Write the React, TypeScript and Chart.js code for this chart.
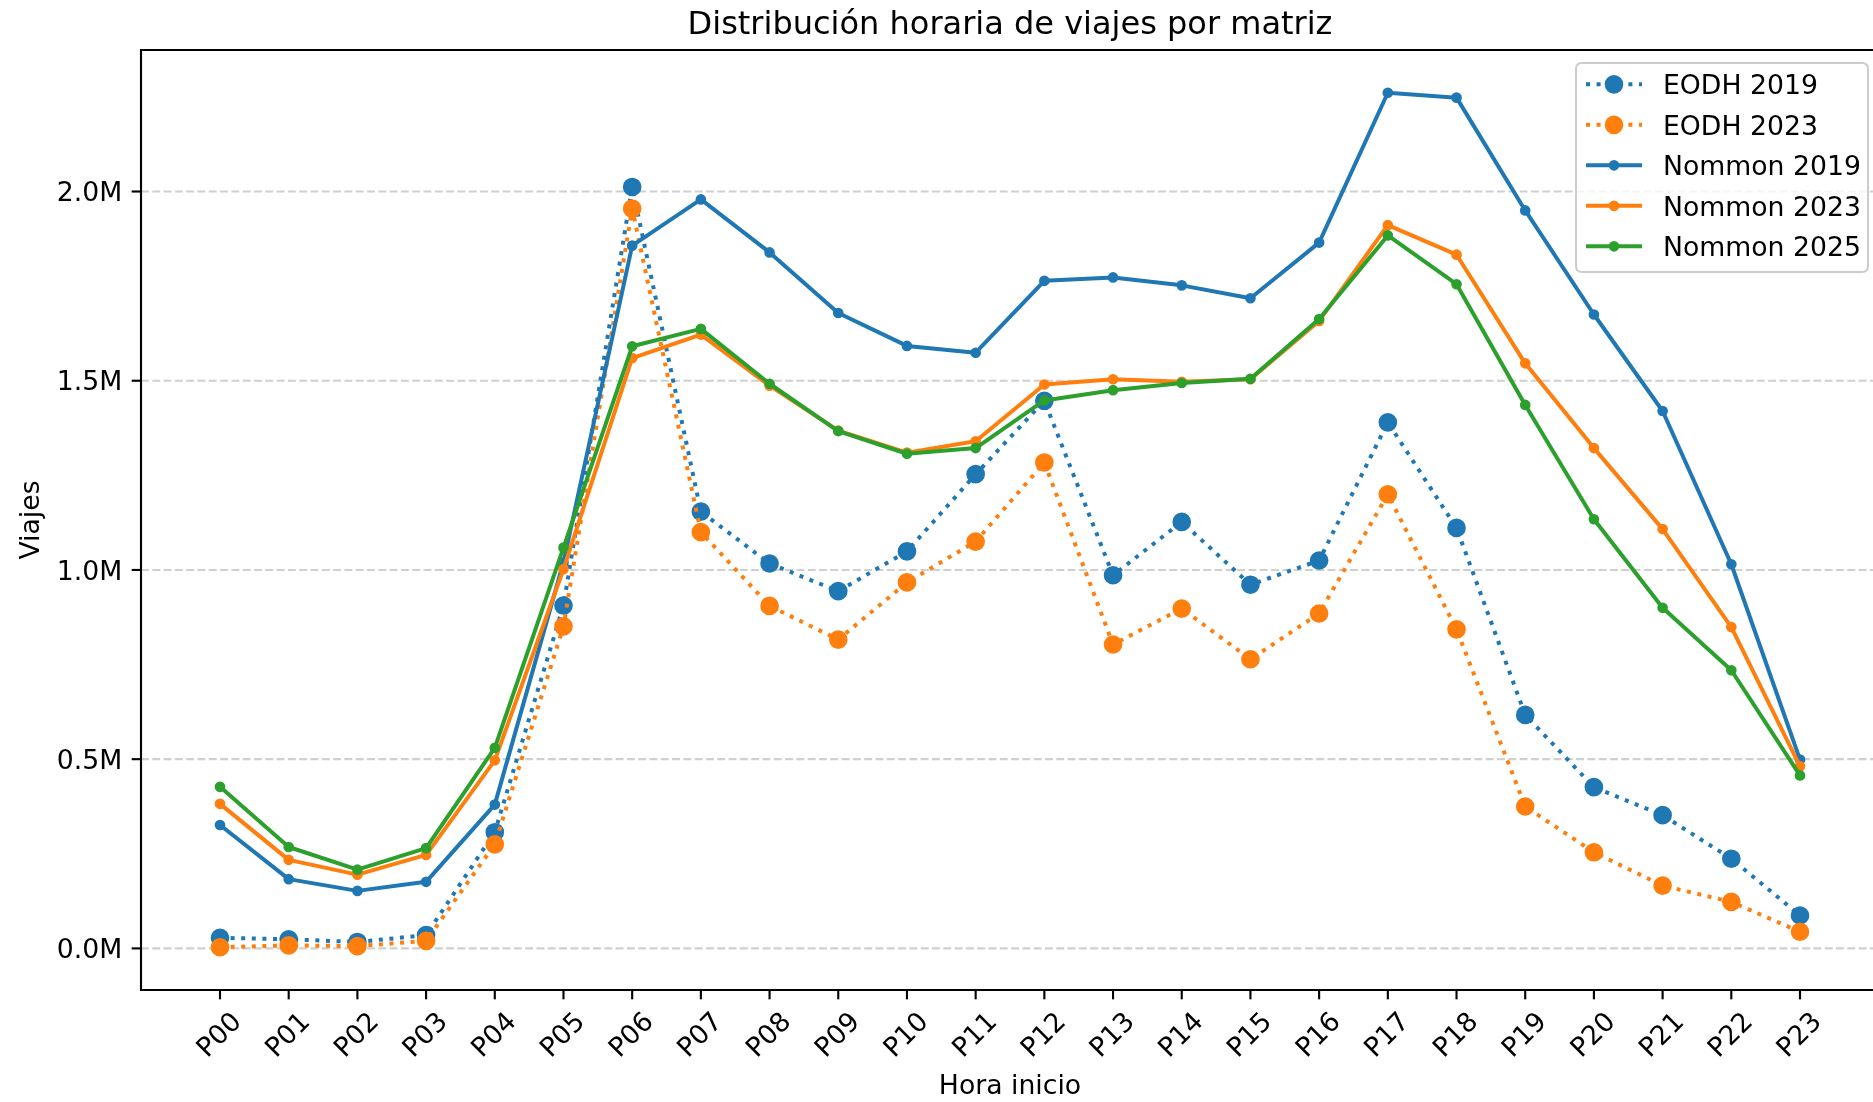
import React, { useEffect, useRef } from "react";
import { Chart, registerables } from "chart.js";

Chart.register(...registerables);

const HOURS = ["P00","P01","P02","P03","P04","P05","P06","P07","P08","P09","P10","P11","P12","P13","P14","P15","P16","P17","P18","P19","P20","P21","P22","P23"];

// values in millions of trips
const EODH_2019 = [0.028, 0.024, 0.017, 0.035, 0.307, 0.906, 2.012, 1.154, 1.017, 0.944, 1.049, 1.253, 1.447, 0.986, 1.127, 0.961, 1.025, 1.390, 1.111, 0.617, 0.426, 0.352, 0.237, 0.087];
const EODH_2023 = [0.003, 0.008, 0.006, 0.020, 0.275, 0.851, 1.955, 1.100, 0.905, 0.816, 0.967, 1.075, 1.284, 0.803, 0.898, 0.764, 0.885, 1.200, 0.843, 0.375, 0.254, 0.166, 0.123, 0.044];
const NOMMON_2019 = [0.326, 0.183, 0.152, 0.176, 0.380, 1.020, 1.857, 1.979, 1.839, 1.679, 1.592, 1.574, 1.764, 1.773, 1.752, 1.718, 1.865, 2.261, 2.248, 1.950, 1.675, 1.420, 1.015, 0.499];
const NOMMON_2023 = [0.382, 0.234, 0.195, 0.247, 0.497, 1.002, 1.560, 1.622, 1.487, 1.368, 1.310, 1.340, 1.490, 1.504, 1.497, 1.504, 1.658, 1.911, 1.833, 1.546, 1.322, 1.108, 0.849, 0.481];
const NOMMON_2025 = [0.427, 0.268, 0.208, 0.265, 0.530, 1.059, 1.591, 1.637, 1.492, 1.367, 1.307, 1.322, 1.448, 1.475, 1.494, 1.505, 1.663, 1.884, 1.755, 1.436, 1.134, 0.900, 0.735, 0.457];

const Y_TICKS = [0, 0.5, 1.0, 1.5, 2.0];
const Y_TICK_LABELS = ["0.0M", "0.5M", "1.0M", "1.5M", "2.0M"];

const TITLE = "Distribución horaria de viajes por matriz";
const X_TITLE = "Hora inicio";
const Y_TITLE = "Viajes";

const BLUE = "#1f77b4";
const ORANGE = "#ff7f0e";
const GREEN = "#2ca02c";

const SERIES = [
  { label: "EODH 2019", data: EODH_2019, color: BLUE, dotted: true },
  { label: "EODH 2023", data: EODH_2023, color: ORANGE, dotted: true },
  { label: "Nommon 2019", data: NOMMON_2019, color: BLUE, dotted: false },
  { label: "Nommon 2023", data: NOMMON_2023, color: ORANGE, dotted: false },
  { label: "Nommon 2025", data: NOMMON_2025, color: GREEN, dotted: false },
];

const CANVAS_W = 1890;
const CANVAS_H = 1102;
const AX_L = 141, AX_T = 50, AX_R = 1879, AX_B = 990;
const FONT = '"DejaVu Sans", sans-serif';
const FS = 26.7;
const LW = 4;
const DOT_DASH = [4, 6.6];
const BIG_R = 8, SMALL_R = 4, MEW = 2.67;
const TICK_LEN = 9.33, PAD = 9.33, SPINE_W = 2.13;

export default function App() {
  const ref = useRef<HTMLCanvasElement | null>(null);

  useEffect(() => {
    const canvas = ref.current;
    if (!canvas) return;

    const allVals = SERIES.flatMap((s) => s.data);
    const dmin = Math.min(...allVals), dmax = Math.max(...allVals);
    const margin = (dmax - dmin) * 0.05;

    const decor = {
      id: "decor",
      beforeDatasetsDraw(chart: any) {
        const ctx = chart.ctx;
        const ys = chart.scales.y;
        ctx.save();
        ctx.strokeStyle = "rgba(176,176,176,0.6)";
        ctx.lineWidth = 2.13;
        ctx.setLineDash([7.9, 3.4]);
        for (const v of Y_TICKS) {
          const y = ys.getPixelForValue(v);
          ctx.beginPath();
          ctx.moveTo(AX_L, y);
          ctx.lineTo(AX_R, y);
          ctx.stroke();
        }
        ctx.restore();
      },
      afterDatasetsDraw(chart: any) {
        const ctx = chart.ctx;
        const xs = chart.scales.x;
        const ys = chart.scales.y;
        ctx.save();
        // spines
        ctx.strokeStyle = "#000";
        ctx.lineWidth = SPINE_W;
        ctx.setLineDash([]);
        ctx.lineCap = "square";
        ctx.beginPath();
        ctx.moveTo(AX_L, AX_B);
        ctx.lineTo(AX_L, AX_T);
        ctx.lineTo(AX_R, AX_T);
        ctx.lineTo(AX_R, AX_B);
        ctx.lineTo(AX_L, AX_B);
        ctx.stroke();
        ctx.lineCap = "butt";
        // y ticks
        ctx.fillStyle = "#000";
        ctx.font = `${FS}px ${FONT}`;
        ctx.textAlign = "right";
        ctx.textBaseline = "alphabetic";
        Y_TICKS.forEach((v, i) => {
          const y = ys.getPixelForValue(v);
          ctx.beginPath();
          ctx.moveTo(AX_L, y);
          ctx.lineTo(AX_L - TICK_LEN, y);
          ctx.stroke();
          ctx.fillText(Y_TICK_LABELS[i], AX_L - TICK_LEN - PAD, y + 0.729 * FS / 2);
        });
        // x ticks
        HOURS.forEach((lab, i) => {
          const x = xs.getPixelForValue(i);
          ctx.beginPath();
          ctx.moveTo(x, AX_B);
          ctx.lineTo(x, AX_B + TICK_LEN);
          ctx.stroke();
          const w = ctx.measureText(lab).width;
          const h = 0.996 * FS;
          const bh = (w + h) * Math.SQRT1_2;
          const cy = AX_B + TICK_LEN + PAD + bh / 2;
          ctx.save();
          ctx.translate(x, cy);
          ctx.rotate(-Math.PI / 4);
          ctx.textAlign = "center";
          ctx.fillText(lab, 0, (0.76 - 0.236) / 2 * FS);
          ctx.restore();
        });
        // axis titles
        ctx.textAlign = "center";
        ctx.fillText(X_TITLE, (AX_L + AX_R) / 2, 1094);
        ctx.save();
        ctx.translate(32, (AX_T + AX_B) / 2);
        ctx.rotate(-Math.PI / 2);
        ctx.fillText(Y_TITLE, 0, (0.76 - 0.236) / 2 * FS);
        ctx.restore();
        // title
        ctx.font = `32px ${FONT}`;
        ctx.fillText(TITLE, (AX_L + AX_R) / 2, 34);

        // legend
        const bx = 1576, by = 63, bw = 292, bhh = 209, r = 6;
        ctx.beginPath();
        ctx.moveTo(bx + r, by);
        ctx.lineTo(bx + bw - r, by);
        ctx.quadraticCurveTo(bx + bw, by, bx + bw, by + r);
        ctx.lineTo(bx + bw, by + bhh - r);
        ctx.quadraticCurveTo(bx + bw, by + bhh, bx + bw - r, by + bhh);
        ctx.lineTo(bx + r, by + bhh);
        ctx.quadraticCurveTo(bx, by + bhh, bx, by + bhh - r);
        ctx.lineTo(bx, by + r);
        ctx.quadraticCurveTo(bx, by, bx + r, by);
        ctx.closePath();
        ctx.fillStyle = "rgba(255,255,255,0.8)";
        ctx.fill();
        ctx.strokeStyle = "#cccccc";
        ctx.lineWidth = 2;
        ctx.stroke();

        ctx.font = `${FS}px ${FONT}`;
        ctx.textAlign = "left";
        SERIES.forEach((s, i) => {
          const y = 84.3 + i * 40.5;
          ctx.strokeStyle = s.color;
          ctx.lineWidth = LW;
          ctx.setLineDash(s.dotted ? DOT_DASH : []);
          ctx.beginPath();
          ctx.moveTo(1586, y);
          ctx.lineTo(1642, y);
          ctx.stroke();
          ctx.setLineDash([]);
          ctx.beginPath();
          ctx.arc(1614, y, s.dotted ? BIG_R : SMALL_R, 0, Math.PI * 2);
          ctx.fillStyle = s.color;
          ctx.fill();
          ctx.lineWidth = MEW;
          ctx.stroke();
          ctx.fillStyle = "#000";
          ctx.fillText(s.label, 1663, y + 10);
        });
        ctx.restore();
      },
    };

    const chart = new Chart(canvas, {
      type: "line",
      data: {
        datasets: SERIES.map((s, i) => ({
          label: s.label,
          data: s.data.map((v, k) => ({ x: k, y: v })),
          borderColor: s.color,
          backgroundColor: s.color,
          borderWidth: LW,
          borderDash: s.dotted ? DOT_DASH : [],
          borderCapStyle: "butt",
          borderJoinStyle: "round",
          pointRadius: s.dotted ? BIG_R : SMALL_R,
          pointBorderWidth: MEW,
          pointBackgroundColor: s.color,
          pointBorderColor: s.color,
          pointHoverRadius: s.dotted ? BIG_R : SMALL_R,
          tension: 0,
          fill: false,
          order: SERIES.length - i,
        })),
      },
      options: {
        animation: false,
        responsive: false,
        devicePixelRatio: 1,
        layout: {
          padding: { left: AX_L, top: AX_T, right: CANVAS_W - AX_R, bottom: CANVAS_H - AX_B },
        },
        scales: {
          x: { type: "linear", display: false, min: -1.15, max: HOURS.length - 1 + 1.15 },
          y: { type: "linear", display: false, min: dmin - margin, max: dmax + margin },
        },
        plugins: {
          legend: { display: false },
          title: { display: false },
          tooltip: { enabled: false },
        },
        events: [],
      },
      plugins: [decor],
    } as any);

    return () => chart.destroy();
  }, []);

  return (
    <div
      style={{
        position: "fixed",
        left: 0,
        top: 0,
        width: 1873,
        height: 1102,
        overflow: "hidden",
        background: "#fff",
      }}
    >
      <canvas
        ref={ref}
        width={CANVAS_W}
        height={CANVAS_H}
        style={{ display: "block", width: CANVAS_W, height: CANVAS_H }}
      />
    </div>
  );
}
